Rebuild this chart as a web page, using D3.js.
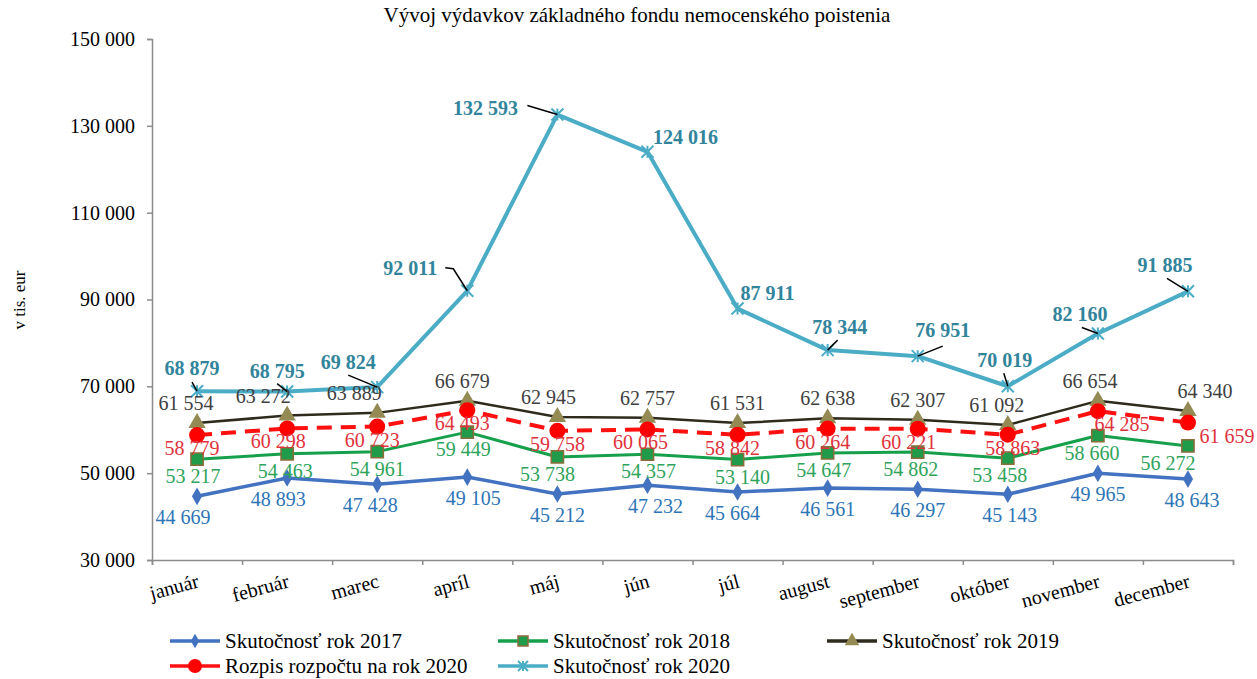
<!DOCTYPE html>
<html>
<head>
<meta charset="utf-8">
<script src="https://cdn.jsdelivr.net/npm/d3@7"></script>
<style>
  body { margin: 0; background: #fff; }
  svg text { font-family: "Liberation Serif", "Times New Roman", serif; }
</style>
</head>
<body>
<div id="chart"></div>
<script>
// data
var months = ["január", "február", "marec", "apríl", "máj", "jún", "júl", "august", "september", "október", "november", "december"];
var yTicks = [30000, 50000, 70000, 90000, 110000, 130000, 150000];
var skut2017 = [44669, 48893, 47428, 49105, 45212, 47232, 45664, 46561, 46297, 45143, 49965, 48643];
var skut2018 = [53217, 54463, 54961, 59449, 53738, 54357, 53140, 54647, 54862, 53458, 58660, 56272];
var skut2019 = [61554, 63272, 63889, 66679, 62945, 62757, 61531, 62638, 62307, 61092, 66654, 64340];
var rozpis2020 = [58779, 60298, 60723, 64493, 59758, 60065, 58842, 60264, 60221, 58863, 64285, 61659];
var skut2020 = [68879, 68795, 69824, 92011, 132593, 124016, 87911, 78344, 76951, 70019, 82160, 91885];

// label placement (offsets from the point)
var dx2017 = [-14, -9, -7, 6, 0, 8, -5, 0, 0, 2, 0, 4];
var dx2018 = [-4, -2, 0, -4, -10, 1, 5, -4, -7, -8, -6, -20];
var dx2019 = [-11, -24, -23, -5, -9, 0, 0, 0, 0, -11, -8, 17];
var dxRozpis = [-5, -9, -5, -5, 0, -7, -5, -5, -9, 5, 24, 39];
var lbl2020 = [[-5, -23], [-10, -21], [-29, -25], [-57, -23], [-72, -7], [38, -15], [30, -16], [12, -23], [25, -26], [-3, -26], [-18, -20], [-23, -26]];
var lead2020 = [[[-5, -9]], [[-10, -8]], [[-29, -12]], [[-22, -23], [-14, -22]], [[-30, -9]], null, null, [[10, -10]], [[25, -10]], [[-4, -13]], [[-16, -6]], [[-21, -13]]];

var W = 1257, H = 679;
var svg = d3.select("#chart").append("svg").attr("width", W).attr("height", H);

var x = d3.scaleBand().domain(months).range([152, 1233]);
var xb = d3.scaleLinear().domain([0, 12]).range([152, 1233]);
var y = d3.scaleLinear().domain([30000, 150000]).range([560, 39]);
var cx = function(i) { return x(months[i]) + x.bandwidth() / 2; };

var loc = d3.formatLocale({ decimal: ",", thousands: " ", grouping: [3], currency: ["", ""] });
var fmt = loc.format(",d");

// title
svg.append("text")
	.attr("x", 637).attr("y", 22)
	.attr("text-anchor", "middle")
	.style("font-size", "21px")
	.attr("fill", "#000")
	.text("Vývoj výdavkov základného fondu nemocenského poistenia");

// y axis title
svg.append("text")
	.attr("transform", "translate(25,300) rotate(-90)")
	.attr("text-anchor", "middle")
	.style("font-size", "17px")
	.attr("fill", "#000")
	.text("v tis. eur");

// axes
var yAxis = svg.append("g")
	.attr("transform", "translate(152,0)")
	.call(d3.axisLeft(y).tickValues(yTicks).tickSize(5).tickPadding(12).tickFormat(fmt));
yAxis.selectAll("text").style("font-size", "20px").attr("fill", "#000").style("font-family", "Liberation Serif");

var xAxis = svg.append("g")
	.attr("transform", "translate(0,560)")
	.call(d3.axisBottom(xb).ticks(12).tickSize(5).tickFormat(""));

svg.selectAll(".domain").attr("stroke", "#8c8c8c").attr("stroke-width", 1.5);
svg.selectAll(".tick line").attr("stroke", "#8c8c8c").attr("stroke-width", 1.5);

svg.append("g").selectAll("text")
	.data(months).enter().append("text")
	.attr("transform", function(d, i) { return "translate(" + (cx(i) + 3) + ",587) rotate(-15)"; })
	.attr("text-anchor", "end")
	.style("font-size", "20px")
	.attr("fill", "#000")
	.text(function(d) { return d; });

// series
var line = d3.line().x(function(d, i) { return cx(i); }).y(function(d) { return y(d); });

function drawLine(vals, color, width, dash) {
	svg.append("path")
		.datum(vals)
		.attr("d", line)
		.attr("fill", "none")
		.attr("stroke", color)
		.attr("stroke-width", width)
		.attr("stroke-linejoin", "round")
		.attr("stroke-dasharray", dash || null);
}

function drawSymbols(vals, type, size, fill, stroke) {
	svg.append("g").selectAll("path")
		.data(vals).enter().append("path")
		.attr("d", d3.symbol().type(type).size(size))
		.attr("transform", function(d, i) { return "translate(" + cx(i) + "," + y(d) + ")"; })
		.attr("fill", fill)
		.attr("stroke", stroke || "none")
		.attr("stroke-width", 1.5);
}

function starPath(s) {
	return "M" + (-s) + "," + (-s) + "L" + s + "," + s + "M" + (-s) + "," + s + "L" + s + "," + (-s) + "M0," + (-s) + "L0," + s;
}

drawLine(skut2017, "#4272c0", 3.5);
drawSymbols(skut2017, d3.symbolDiamond, 90, "#4272c0");

drawLine(skut2018, "#17a04c", 3);
drawSymbols(skut2018, d3.symbolSquare, 150, "#1f9b4a", "#8a6d3b");

drawLine(skut2019, "#2e2a1c", 2.5);
drawSymbols(skut2019, d3.symbolTriangle, 130, "#948a54");

drawLine(rozpis2020, "#ff1010", 4, "15,9");
svg.append("g").selectAll("circle")
	.data(rozpis2020).enter().append("circle")
	.attr("cx", function(d, i) { return cx(i); })
	.attr("cy", function(d) { return y(d); })
	.attr("r", 8)
	.attr("fill", "#ff0000");

drawLine(skut2020, "#4bacc6", 4);
svg.append("g").selectAll("path")
	.data(skut2020).enter().append("path")
	.attr("d", starPath(6))
	.attr("transform", function(d, i) { return "translate(" + cx(i) + "," + y(d) + ")"; })
	.attr("fill", "none")
	.attr("stroke", "#4bacc6")
	.attr("stroke-width", 2);

// data labels
function drawLabels(vals, dxs, dy, color) {
	svg.append("g").selectAll("text")
		.data(vals).enter().append("text")
		.attr("x", function(d, i) { return cx(i) + dxs[i]; })
		.attr("y", function(d) { return y(d) + dy; })
		.attr("dy", "0.35em")
		.attr("text-anchor", "middle")
		.style("font-size", "20px")
		.attr("fill", color)
		.text(function(d) { return fmt(d); });
}

drawLabels(skut2017, dx2017, 21, "#2e75b6");
drawLabels(skut2018, dx2018, 17, "#2ea35a");
drawLabels(skut2019, dx2019, -20, "#404040");
drawLabels(rozpis2020, dxRozpis, 13, "#e0323c");

// 2020 leader lines + labels
var leaders = skut2020.map(function(v, i) { return { v: v, i: i, pts: lead2020[i] }; })
	.filter(function(d) { return d.pts != null; });

svg.append("g").selectAll("path")
	.data(leaders).enter().append("path")
	.attr("d", function(d) {
		var px = cx(d.i), py = y(d.v);
		var pts = d.pts.map(function(o) { return [px + o[0], py + o[1]]; });
		pts.push([px, py]);
		return d3.line()(pts);
	})
	.attr("fill", "none")
	.attr("stroke", "#000")
	.attr("stroke-width", 1.5);

svg.append("g").selectAll("text")
	.data(skut2020).enter().append("text")
	.attr("x", function(d, i) { return cx(i) + lbl2020[i][0]; })
	.attr("y", function(d, i) { return y(d) + lbl2020[i][1]; })
	.attr("dy", "0.35em")
	.attr("text-anchor", "middle")
	.style("font-size", "20px")
	.style("font-weight", "bold")
	.attr("fill", "#31849b")
	.text(function(d) { return fmt(d); });

// legend
var legendItems = [
	{ name: "Skutočnosť rok 2017", color: "#4272c0", kind: "diamond", col: 0, row: 0 },
	{ name: "Skutočnosť rok 2018", color: "#17a04c", kind: "square", col: 1, row: 0 },
	{ name: "Skutočnosť rok 2019", color: "#2e2a1c", kind: "triangle", col: 2, row: 0 },
	{ name: "Rozpis rozpočtu na rok 2020", color: "#ff1010", kind: "circle", col: 0, row: 1 },
	{ name: "Skutočnosť rok 2020", color: "#4bacc6", kind: "star", col: 1, row: 1 }
];
var colX = [170, 498, 827];
var rowY = [641, 666];

var lg = svg.append("g").selectAll("g")
	.data(legendItems).enter().append("g")
	.attr("transform", function(d) { return "translate(" + colX[d.col] + "," + rowY[d.row] + ")"; });

lg.append("line")
	.attr("x1", 0).attr("x2", 50).attr("y1", 0).attr("y2", 0)
	.attr("stroke", function(d) { return d.color; })
	.attr("stroke-width", 3.5);

lg.each(function(d) {
	var g = d3.select(this);
	if (d.kind === "diamond") {
		g.append("path").attr("d", d3.symbol().type(d3.symbolDiamond).size(60)).attr("transform", "translate(25,0)").attr("fill", "#4272c0");
	} else if (d.kind === "square") {
		g.append("path").attr("d", d3.symbol().type(d3.symbolSquare).size(100)).attr("transform", "translate(25,0)").attr("fill", "#1f9b4a").attr("stroke", "#8a6d3b").attr("stroke-width", 1.5);
	} else if (d.kind === "triangle") {
		g.append("path").attr("d", d3.symbol().type(d3.symbolTriangle).size(90)).attr("transform", "translate(25,0)").attr("fill", "#948a54");
	} else if (d.kind === "circle") {
		g.append("circle").attr("cx", 25).attr("cy", 0).attr("r", 7).attr("fill", "#ff0000");
	} else {
		g.append("path").attr("d", starPath(5)).attr("transform", "translate(25,0)").attr("fill", "none").attr("stroke", "#4bacc6").attr("stroke-width", 2);
	}
});

lg.append("text")
	.attr("x", 55).attr("y", 0)
	.attr("dy", "0.35em")
	.style("font-size", "21px")
	.attr("fill", "#000")
	.text(function(d) { return d.name; });
</script>
</body>
</html>
